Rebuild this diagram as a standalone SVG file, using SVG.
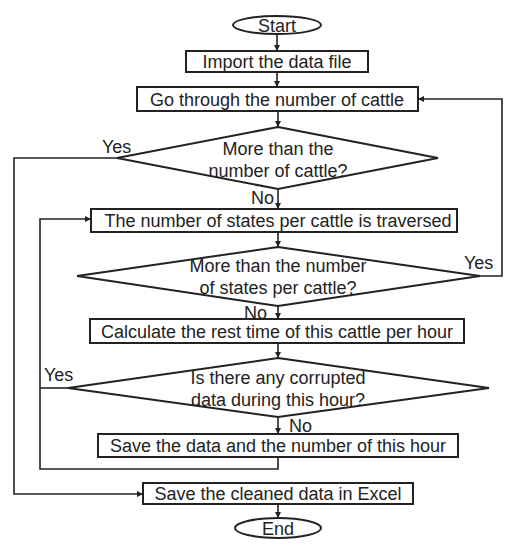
<svg xmlns="http://www.w3.org/2000/svg" width="518" height="550" viewBox="0 0 518 550">
<style>
.s{fill:#fff;stroke:#222;stroke-width:2}
.c{fill:none;stroke:#222;stroke-width:1.6}
text{font-family:"Liberation Sans",Arial,sans-serif;font-size:18px;fill:#222}
.m{text-anchor:middle}
</style>
<defs>
<marker id="a" viewBox="0 0 10 10" refX="10" refY="5" markerWidth="6" markerHeight="6" orient="auto" markerUnits="userSpaceOnUse">
<path d="M0,0L10,5L0,10z" fill="#222"/>
</marker>
</defs>
<rect width="518" height="550" fill="#fff"/>
<g id="connectors">
<path class="c" d="M277,34V51" marker-end="url(#a)"/>
<path class="c" d="M277,72V87" marker-end="url(#a)"/>
<path class="c" d="M278,111V127" marker-end="url(#a)"/>
<path class="c" d="M278,189V209" marker-end="url(#a)"/>
<path class="c" d="M278,232V247" marker-end="url(#a)"/>
<path class="c" d="M278,306V319" marker-end="url(#a)"/>
<path class="c" d="M278,343V358" marker-end="url(#a)"/>
<path class="c" d="M278,417V434" marker-end="url(#a)"/>
<path class="c" d="M278,504V518" marker-end="url(#a)"/>
<path class="c" d="M117,158H14V494H143" marker-end="url(#a)"/>
<path class="c" d="M480,276H502V99H418" marker-end="url(#a)"/>
<path class="c" d="M68,388H40"/>
<path class="c" d="M278,457V469H40V219H91" marker-end="url(#a)"/>
<text x="102" y="153">Yes</text>
<text x="251" y="204">No</text>
<text x="464" y="269">Yes</text>
<text x="244" y="319">No</text>
<text x="44" y="381">Yes</text>
<text x="289" y="432">No</text>
</g>
<g id="start"><ellipse class="s" cx="277" cy="25" rx="44" ry="9"/><text class="m" x="277" y="32">Start</text></g>
<g id="import"><rect class="s" x="186" y="51" width="182" height="21"/><text class="m" x="277" y="68">Import the data file</text></g>
<g id="gothrough"><rect class="s" x="137" y="87" width="281" height="24"/><text class="m" x="277" y="106">Go through the number of cattle</text></g>
<g id="dec1"><path class="s" d="M278,127L438,158L278,189L117,158Z"/><text class="m" x="278" y="155">More than the</text><text class="m" x="278" y="177">number of cattle?</text></g>
<g id="states"><rect class="s" x="91" y="209" width="366" height="23"/><text class="m" x="278" y="227">The number of states per cattle is traversed</text></g>
<g id="dec2"><path class="s" d="M278,247L480,276L278,306L77,276Z"/><text class="m" x="278" y="272">More than the number</text><text class="m" x="278" y="294">of states per cattle?</text></g>
<g id="calc"><rect class="s" x="90" y="319" width="374" height="24"/><text class="m" x="277" y="338">Calculate the rest time of this cattle per hour</text></g>
<g id="dec3"><path class="s" d="M278,358L489,388L278,417L68,388Z"/><text class="m" x="278" y="384">Is there any corrupted</text><text class="m" x="278" y="406">data during this hour?</text></g>
<g id="savedata"><rect class="s" x="98" y="434" width="360" height="23"/><text class="m" x="278" y="452">Save the data and the number of this hour</text></g>
<g id="saveclean"><rect class="s" x="143" y="483" width="270" height="21"/><text class="m" x="278" y="500">Save the cleaned data in Excel</text></g>
<g id="end"><ellipse class="s" cx="278" cy="528" rx="43" ry="10"/><text class="m" x="278" y="535">End</text></g>
</svg>
